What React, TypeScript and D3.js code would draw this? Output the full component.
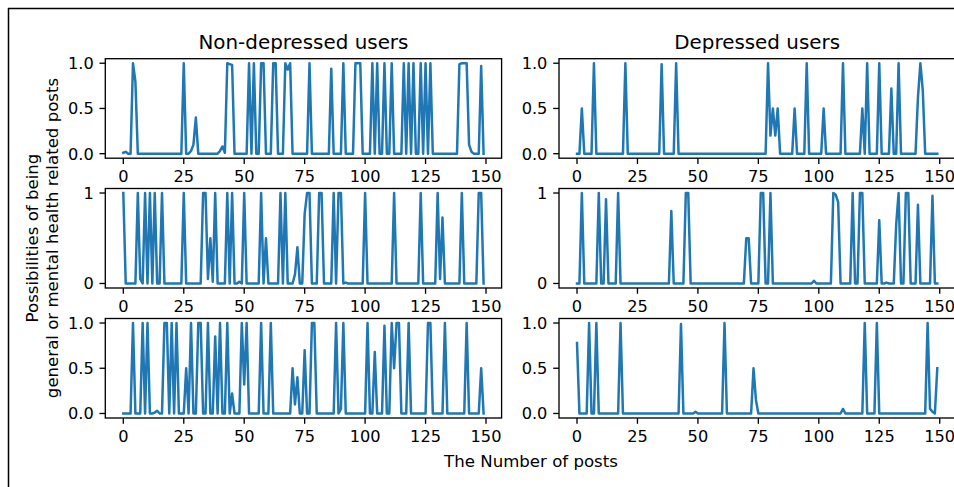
import React from 'react';
import * as d3 from 'd3';

// values, 150 posts per user (index = post number)
const nonDepressed1 = [
  0.01, 0.02, 0, 0, 1, 0.8, 0, 0, 0, 0,
  0, 0, 0, 0, 0, 0, 0, 0, 0, 0,
  0, 0, 0, 0, 0, 1, 0, 0, 0.03, 0.1,
  0.4, 0, 0, 0, 0, 0, 0, 0, 0, 0,
  0.03, 0.08, 0.01, 1, 0.99, 0.98, 0, 0, 0, 0,
  0, 0, 1, 0, 1, 0, 0, 1, 1, 0,
  0, 0, 1, 1, 0, 0, 0, 1, 0.93, 1,
  0, 0, 0, 0, 0, 0, 0, 1, 0, 0,
  0, 0, 0, 0, 0, 0, 0.94, 0, 0, 0,
  0, 1, 0, 0, 0, 0, 1, 1, 1, 0,
  0, 0, 0, 1, 0, 1, 0, 0, 1, 0,
  0, 1, 0, 0, 0, 0, 1, 0, 1, 0,
  1, 0, 0, 1, 0, 1, 0, 1, 0, 0,
  0, 0, 0, 0, 0, 0, 0, 0, 0, 0.99,
  1, 1, 1, 0.1, 0.02, 0, 0, 0, 0.97, 0,
];

const depressed1 = [
  0, 0, 0.5, 0, 0, 0, 0, 1, 0, 0,
  0, 0, 0, 0, 0, 0, 0, 0, 0, 0,
  1, 0, 0, 0, 0, 0, 0, 0, 0, 0,
  0, 0, 0, 0, 0, 0.99, 0, 0, 0, 0,
  0, 1, 0, 0, 0, 0, 0, 0, 0, 0,
  0, 0, 0, 0, 0, 0, 0, 0, 0, 0,
  0, 0, 0, 0, 0, 0, 0, 0, 0, 0,
  0, 0, 0, 0, 0, 0, 0, 0, 0, 1,
  0.2, 0.5, 0.2, 0.5, 0, 0, 0, 0, 0, 0,
  0.5, 0, 0, 0, 0, 1, 0, 0, 0, 0,
  0, 0, 0.5, 0, 0, 0, 0, 0, 0, 0,
  1, 0, 0, 0, 0, 0, 0, 0, 0.5, 0,
  1, 0, 0, 0, 0, 1, 0, 0, 0, 0,
  0.72, 0, 0, 1, 0, 0, 0, 0, 0, 0,
  0, 0.62, 1, 0.7, 0, 0, 0, 0, 0, 0,
];

const nonDepressed2 = [
  1, 0, 0, 0, 0, 0, 1, 0.05, 0, 1,
  0, 1, 0, 1, 0, 0, 1, 0, 0, 0,
  0, 0, 0, 0, 0, 1, 0, 0, 0, 0,
  0, 0, 0, 1, 1, 0.05, 0.5, 0.02, 1, 0,
  0, 0, 0, 1, 0, 1, 0, 0, 0.02, 0,
  1, 0, 0, 0, 0, 0, 0, 1, 0, 0.5,
  0, 0, 0, 0, 0, 1, 0, 1, 0, 0,
  0, 0.1, 0.4, 0, 0, 0.77, 1, 1, 0, 0,
  0, 1, 1, 0, 0, 0, 0, 1, 0, 1,
  1, 0, 0.01, 0, 0, 0, 0, 0, 0, 0,
  1, 0, 0, 0, 0, 0, 0, 0, 0, 0,
  0, 0, 1, 0, 0, 0, 0, 0, 0, 0,
  0, 0, 0, 1, 0, 0, 0, 0, 0, 0,
  1, 0.05, 0.73, 0, 0, 0, 0, 0, 0, 0,
  1, 0, 0, 0, 0, 0, 0, 1, 1, 0,
];

const depressed2 = [
  0, 0, 1, 0, 0, 0, 0, 0, 0, 1,
  0, 0, 0.93, 0, 0, 0, 0, 1, 0, 0,
  0, 0, 0, 0, 0, 0, 0, 0, 0, 0,
  0, 0, 0, 0, 0, 0, 0, 0, 0, 0.8,
  0, 0, 0, 0, 0, 1, 1, 0, 0, 0,
  0, 0, 0, 0, 0, 0, 0, 0, 0, 0,
  0, 0, 0, 0, 0, 0, 0, 0, 0, 0,
  0.5, 0.5, 0, 0, 0, 0, 1, 1, 0, 0,
  1, 0, 0, 0, 0, 0, 0, 0, 0, 0,
  0, 0, 0, 0, 0, 0, 0, 0, 0.03, 0,
  0, 0, 0, 0, 0, 0, 1, 0.98, 0.9, 0,
  0, 0, 0, 0, 1, 0, 0, 1, 1, 0,
  0, 0, 0, 0, 0, 0.7, 0, 0, 0.01, 0,
  0, 0, 0.65, 1, 0, 0, 1, 1, 0, 0,
  0, 0.87, 0, 0, 0, 0, 0, 0.97, 0, 0,
];

const nonDepressed3 = [
  0, 0, 0, 0, 1, 0, 0, 0, 1, 0,
  1, 0, 0, 0.01, 0.03, 0, 0, 1, 1, 0,
  1, 0, 1, 0, 0, 0, 0.5, 0, 1, 0,
  0, 1, 1, 0, 0, 1, 0, 0, 0.85, 0,
  1, 0, 0, 1, 0, 0.22, 0, 0, 0, 1,
  0.32, 1, 0, 0, 0, 0, 0, 1, 0, 0,
  0, 1, 0, 0, 0, 0, 0, 0, 0, 0,
  0.5, 0.1, 0.4, 0, 0, 0.7, 0, 0, 1, 1,
  0, 0, 0, 0, 0, 0, 0, 0, 1, 0,
  0.05, 1, 0, 0, 0, 0, 0, 0, 0, 0,
  0, 1, 0, 0, 0.68, 0, 0, 0, 0.97, 0,
  0, 1, 0.5, 1, 1, 0, 0, 0, 1, 0,
  0, 0, 0, 0, 0, 0, 1, 1, 0, 0,
  0, 0, 0, 1, 0, 0, 0, 0, 0, 0,
  0, 0, 1, 0, 0, 0, 0, 0, 0.5, 0,
];

const depressed3 = [
  0.78, 0, 0, 0, 0, 1, 0, 0, 1, 0,
  0, 0, 0, 0, 0, 0, 0, 0, 1, 0,
  0, 0, 0, 0, 0, 0, 0, 0, 0, 0,
  0, 0, 0, 0, 0, 0, 0, 0, 0, 0,
  0, 0, 0, 0.99, 0, 0, 0, 0, 0, 0.02,
  0, 0, 0, 0, 0, 0, 0, 0, 0, 0,
  0, 1, 0, 0, 0, 0, 0, 0, 0, 0,
  0, 0, 0, 0.5, 0.15, 0, 0, 0, 0, 0,
  0, 0, 0, 0, 0, 0, 0, 0, 0, 0,
  0, 0, 0, 0, 0, 0, 0, 0, 0, 0,
  0, 0, 0, 0, 0, 0, 0, 0, 0, 0,
  0.05, 0, 0, 0, 0, 0, 0, 0, 0, 1,
  0, 0, 0, 0, 1, 0, 0, 0, 0, 0,
  0, 0, 0, 0, 0, 0, 0, 0, 0, 0,
  0, 0, 0, 0, 0, 1, 0.05, 0.02, 0, 0.5,
];

const colTitles = ['Non-depressed users', 'Depressed users'];
const xTicks = [0, 25, 50, 75, 100, 125, 150];
const yTicksHalf = [0, 0.5, 1];
const yTicksInt = [0, 1];
const yLabelLines = ['Possibilities of being', 'general or mental health related posts'];
const xLabel = 'The Number of posts';

const blue = '#1f77b4';
const fontSize = 16.2;
const tickLen = 5.8;
const pad = 5.8;

const colLeft = [105.3, 559];
const colWidth = 396.3;
const rowTop = [58.7, 188.5, 318.5];
const rowHeight = 99.5;

const panels = [
  { data: nonDepressed1, row: 0, col: 0, ticks: yTicksHalf, fmt: d3.format('.1f') },
  { data: depressed1, row: 0, col: 1, ticks: yTicksHalf, fmt: d3.format('.1f') },
  { data: nonDepressed2, row: 1, col: 0, ticks: yTicksInt, fmt: d3.format('d') },
  { data: depressed2, row: 1, col: 1, ticks: yTicksInt, fmt: d3.format('d') },
  { data: nonDepressed3, row: 2, col: 0, ticks: yTicksHalf, fmt: d3.format('.1f') },
  { data: depressed3, row: 2, col: 1, ticks: yTicksHalf, fmt: d3.format('.1f') },
];

function Panel({ data, row, col, ticks, fmt }: any) {
  const left = colLeft[col];
  const top = rowTop[row];
  const n = data.length - 1;
  const x = d3.scaleLinear().domain([-n * 0.05, n * 1.05]).range([left, left + colWidth]);
  const y = d3.scaleLinear().domain([-0.05, 1.05]).range([top + rowHeight, top]);
  const line = d3
    .line<number>()
    .x((_, i) => x(i))
    .y(d => y(d));
  const bottom = top + rowHeight;
  return (
    <g>
      <path d={line(data) || ''} fill="none" stroke={blue} strokeWidth={2.5} strokeLinejoin="round" strokeLinecap="square" />
      <rect x={left} y={top} width={colWidth} height={rowHeight} fill="none" stroke="#000" strokeWidth={1.33} />
      {xTicks.map(t => (
        <g key={'x' + t}>
          <line x1={x(t)} x2={x(t)} y1={bottom} y2={bottom + tickLen} stroke="#000" strokeWidth={1.33} />
          <text x={x(t)} y={bottom + tickLen + pad} dy="0.78em" textAnchor="middle" fontSize={fontSize}>
            {t}
          </text>
        </g>
      ))}
      {ticks.map((t: number) => (
        <g key={'y' + t}>
          <line x1={left - tickLen} x2={left} y1={y(t)} y2={y(t)} stroke="#000" strokeWidth={1.33} />
          <text x={left - tickLen - pad} y={y(t)} dy="0.36em" textAnchor="end" fontSize={fontSize}>
            {fmt(t)}
          </text>
        </g>
      ))}
      {row === 0 && (
        <text x={left + colWidth / 2} y={top - 10} textAnchor="middle" fontSize={19.9}>
          {colTitles[col]}
        </text>
      )}
    </g>
  );
}

export default function App() {
  return (
    <svg
      width={954}
      height={487}
      style={{ position: 'absolute', left: 0, top: 0, background: '#fff' }}
      fontFamily="DejaVu Sans"
    >
      <rect x={0} y={0} width={954} height={487} fill="#fff" />
      <line x1={8} x2={954} y1={8.5} y2={8.5} stroke="#000" strokeWidth={1.5} />
      <line x1={8.5} x2={8.5} y1={8} y2={487} stroke="#000" strokeWidth={1.5} />
      {panels.map((p, i) => (
        <Panel key={i} {...p} />
      ))}
      {yLabelLines.map((s, i) => (
        <text
          key={s}
          transform={`translate(${38 + i * 19.5},238) rotate(-90)`}
          textAnchor="middle"
          fontSize={16.6}
        >
          {s}
        </text>
      ))}
      <text x={531} y={467} textAnchor="middle" fontSize={16.6}>
        {xLabel}
      </text>
    </svg>
  );
}
